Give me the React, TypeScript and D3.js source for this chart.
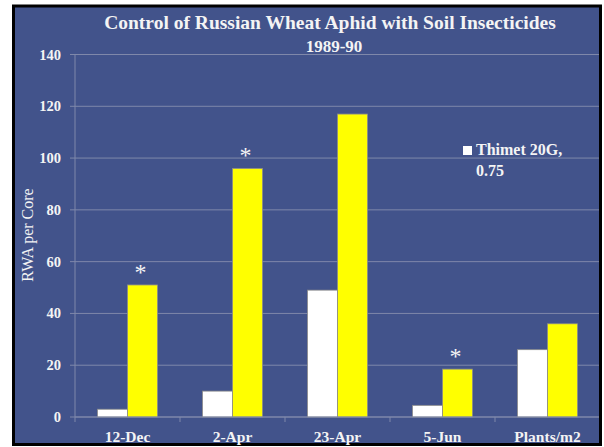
import React from "react";
import * as d3 from "d3";

const categories = ["12-Dec", "2-Apr", "23-Apr", "5-Jun", "Plants/m2"];
const seriesNames = ["Thimet 20G, 0.75", "Check"];
const thimetValues = [3, 10, 49, 4.5, 26];
const checkValues = [51, 96, 117, 18.5, 36];
const significant = [true, true, false, true, false];
const yTicks = [0, 20, 40, 60, 80, 100, 120, 140];
const titleLine1 = "Control of Russian Wheat Aphid with Soil Insecticides";
const titleLine2 = "1989-90";
const yTitle = "RWA per Core";

const W = 604;
const H = 447;
const BG = "#42538b";
const GRID = "#7f88aa";
const TXT = "#f4f4f4";
const FONT = "'Liberation Serif', 'Times New Roman', serif";

export default function App() {
  const left = 75;
  const right = 600;
  const top = 54.5;
  const bottom = 417;

  const x = d3.scaleBand<string>().domain(categories).range([left, right]).padding(0);
  const y = d3.scaleLinear().domain([0, 140]).range([bottom, top]);
  const groupW = 60;
  const sub = d3
    .scaleBand<string>()
    .domain(seriesNames)
    .range([(x.bandwidth() - groupW) / 2, (x.bandwidth() + groupW) / 2]);
  const values = [thimetValues, checkValues];
  const fills = ["#ffffff", "#ffff00"];

  return (
    <svg
      width={W}
      height={H}
      style={{ position: "absolute", left: 0, top: 0, background: "#ffffff" }}
      fontFamily={FONT}
    >
      <rect x={13.5} y={6} width={587} height={438.5} fill={BG} stroke="#000" strokeWidth={3} />

      {/* gridlines */}
      {yTicks.map((t) => (
        <line key={"g" + t} x1={left - 5} x2={right - 1} y1={y(t)} y2={y(t)} stroke={GRID} strokeWidth={1} />
      ))}
      {/* y axis */}
      <line x1={left} x2={left} y1={top} y2={bottom} stroke={GRID} strokeWidth={1} />
      {/* x ticks */}
      {categories.map((c, i) => (
        <line key={"xt" + i} x1={x(c)!} x2={x(c)!} y1={bottom} y2={bottom + 5} stroke={GRID} strokeWidth={1} />
      ))}

      {/* bars */}
      {categories.map((c, i) =>
        values.map((vals, s) => (
          <rect
            key={c + s}
            x={x(c)! + sub(seriesNames[s])!}
            y={y(vals[i])}
            width={sub.bandwidth()}
            height={bottom - y(vals[i])}
            fill={fills[s]}
            stroke="#8a8a8a"
            strokeWidth={0.8}
          />
        ))
      )}
      {/* baseline */}
      <line x1={left} x2={right - 1} y1={bottom} y2={bottom} stroke={GRID} strokeWidth={1} />

      {/* asterisks */}
      {categories.map((c, i) =>
        significant[i] ? (
          <text
            key={"s" + i}
            x={x(c)! + sub(seriesNames[1])! + sub.bandwidth() / 2 - 2}
            y={y(checkValues[i]) - 5}
            fill={TXT}
            fontSize={24}
            textAnchor="middle"
          >
            *
          </text>
        ) : null
      )}

      {/* y tick labels */}
      {yTicks.map((t) => (
        <text key={"yl" + t} x={61} y={y(t) + 5} fill={TXT} fontSize={14.5} fontWeight="bold" textAnchor="end">
          {t}
        </text>
      ))}
      {/* x labels */}
      {categories.map((c) => (
        <text
          key={"xl" + c}
          x={x(c)! + x.bandwidth() / 2}
          y={442}
          fill={TXT}
          fontSize={15.5}
          fontWeight="bold"
          textAnchor="middle"
        >
          {c}
        </text>
      ))}

      {/* y title */}
      <text
        transform={`translate(33,${235}) rotate(-90)`}
        fill={TXT}
        fontSize={16}
        textAnchor="middle"
      >
        {yTitle}
      </text>

      {/* title */}
      <text x={330} y={29} fill={TXT} fontSize={19.5} fontWeight="bold" textAnchor="middle">
        {titleLine1}
      </text>
      <text x={334} y={52} fill={TXT} fontSize={17} fontWeight="bold" textAnchor="middle">
        {titleLine2}
      </text>

      {/* legend */}
      <rect x={463} y={146} width={9} height={9} fill="#ffffff" />
      <text x={476} y={155} fill={TXT} fontSize={16} fontWeight="bold">
        Thimet 20G,
      </text>
      <text x={476} y={176} fill={TXT} fontSize={16} fontWeight="bold">
        0.75
      </text>
    </svg>
  );
}
